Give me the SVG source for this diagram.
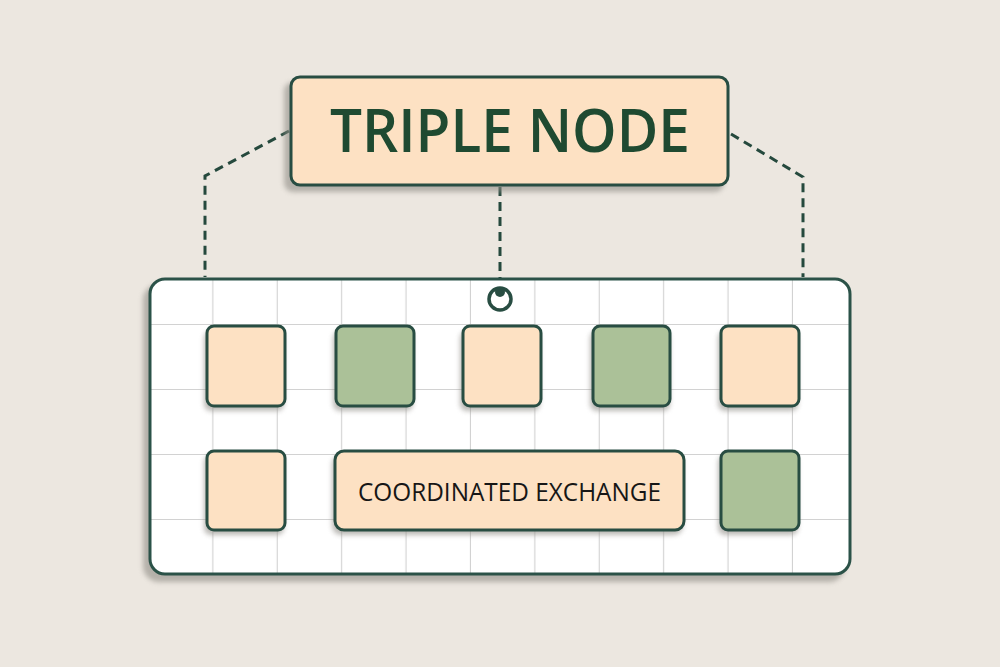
<svg xmlns="http://www.w3.org/2000/svg" width="1000" height="667" viewBox="0 0 1000 667">
  <defs>
    <filter id="sh" x="-20%" y="-20%" width="140%" height="150%">
      <feGaussianBlur stdDeviation="2.5"/>
    </filter>
    <pattern id="grid" x="149" y="260" width="64.4" height="65" patternUnits="userSpaceOnUse">
      <path d="M64.4 0V65M0 65H64.4" fill="none" stroke="#d2d2d2" stroke-width="2.2"/>
    </pattern>
  </defs>
  <style>
    .edge{fill:none;stroke:#25493d;stroke-width:3;stroke-dasharray:9 6}
    .peach{fill:#fde1c3;stroke:#284d42;stroke-width:3}
    .green{fill:#abc198;stroke:#284d42;stroke-width:3}
    .shadow{fill:#8f8c85;opacity:0.6;filter:url(#sh)}
    .title{font-family:"Open Sans","Liberation Sans",sans-serif;font-weight:600;font-size:60px;fill:#1f4a31}
    .label{font-family:"Open Sans","Liberation Sans",sans-serif;font-size:25px;fill:#161616}
  </style>
  <rect width="1000" height="667" fill="#ece7e0"/>

  <g id="connectors">
    <path class="edge" d="M289 131 L205 176 L205 277"/>
    <path class="edge" d="M731 134 L803 177 L803 277"/>
    <path class="edge" d="M500 187 L500 286"/>
  </g>

  <g id="panel">
    <rect class="shadow" x="143" y="284" width="702" height="298" rx="16"/>
    <rect x="150" y="279" width="700" height="295" rx="15" fill="#ffffff"/>
    <rect x="150" y="279" width="700" height="295" rx="15" fill="url(#grid)"/>
    <rect x="150" y="279" width="700" height="295" rx="15" fill="none" stroke="#2b5248" stroke-width="3"/>
    <circle cx="500" cy="299" r="11" fill="#ffffff" stroke="#284d42" stroke-width="3.5"/>
    <circle cx="500" cy="292" r="5" fill="#284d42"/>
  </g>

  <g id="triple-node">
    <rect class="shadow" x="284" y="82" width="440" height="110" rx="9"/>
    <rect class="peach" x="291" y="77" width="437" height="108" rx="9"/>
    <text class="title" x="510" y="152" text-anchor="middle" textLength="360" lengthAdjust="spacingAndGlyphs">TRIPLE NODE</text>
  </g>

  <g id="n1"><rect class="shadow" x="204" y="331" width="80" height="80" rx="7"/><rect class="peach" x="207" y="326" width="78" height="80" rx="7"/></g>
  <g id="n2"><rect class="shadow" x="333" y="331" width="80" height="80" rx="7"/><rect class="green" x="336" y="326" width="78" height="80" rx="7"/></g>
  <g id="n3"><rect class="shadow" x="460" y="331" width="80" height="80" rx="7"/><rect class="peach" x="463" y="326" width="78" height="80" rx="7"/></g>
  <g id="n4"><rect class="shadow" x="590" y="331" width="80" height="80" rx="7"/><rect class="green" x="593" y="326" width="77" height="80" rx="7"/></g>
  <g id="n5"><rect class="shadow" x="718" y="331" width="80" height="80" rx="7"/><rect class="peach" x="721" y="326" width="78" height="80" rx="7"/></g>
  <g id="n6"><rect class="shadow" x="204" y="455" width="80" height="80" rx="7"/><rect class="peach" x="207" y="451" width="78" height="79" rx="7"/></g>
  <g id="coordinated-exchange">
    <rect class="shadow" x="332" y="455" width="351" height="80" rx="9"/>
    <rect class="peach" x="335" y="451" width="349" height="79" rx="9"/>
    <text class="label" x="509.5" y="501" text-anchor="middle" textLength="303" lengthAdjust="spacingAndGlyphs">COORDINATED EXCHANGE</text>
  </g>
  <g id="n7"><rect class="shadow" x="718" y="455" width="80" height="80" rx="7"/><rect class="green" x="721" y="451" width="78" height="79" rx="7"/></g>
</svg>
